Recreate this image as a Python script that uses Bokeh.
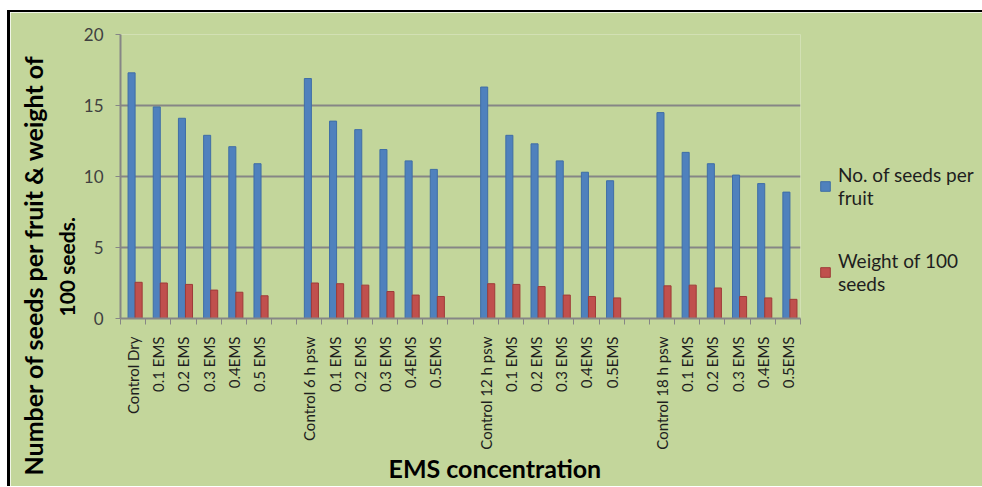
import numpy as np
from bokeh.plotting import figure
from bokeh.models import ColumnDataSource, Range1d, FixedTicker, Legend, LegendItem, Title
from bokeh.transform import dodge
from bokeh.embed import file_html
from bokeh.resources import INLINE

categories = ["Control Dry", "0.1 EMS", "0.2 EMS", "0.3 EMS", "0.4EMS", "0.5 EMS", "",
              "Control 6 h psw", "0.1 EMS", "0.2 EMS", "0.3 EMS", "0.4EMS", "0.5EMS", "",
              "Control 12 h psw", "0.1 EMS", "0.2 EMS", "0.3 EMS", "0.4EMS", "0.5EMS", "",
              "Control 18 h psw", "0.1 EMS", "0.2 EMS", "0.3 EMS", "0.4EMS", "0.5EMS"]
seeds_per_fruit = [17.3, 14.9, 14.1, 12.9, 12.1, 10.9, None,
                   16.9, 13.9, 13.3, 11.9, 11.1, 10.5, None,
                   16.3, 12.9, 12.3, 11.1, 10.3, 9.7, None,
                   14.5, 11.7, 10.9, 10.1, 9.5, 8.9]
weight_100_seeds = [2.55, 2.5, 2.4, 2.0, 1.85, 1.6, None,
                    2.5, 2.45, 2.35, 1.9, 1.65, 1.55, None,
                    2.45, 2.4, 2.25, 1.65, 1.55, 1.45, None,
                    2.3, 2.35, 2.15, 1.55, 1.45, 1.35]
y_ticks = [0, 5, 10, 15, 20]

series_names = ["No. of seeds per\nfruit", "Weight of 100\nseeds"]
x_title = "EMS concentration"
y_title = ["Number of seeds per fruit & weight of", "100 seeds."]

BG = "#C3D69B"
GRID = "#868686"
BLUE = "#4F81BD"
RED = "#C0504D"
FONT = "Lato"

idx = [i for i, c in enumerate(categories) if c]
src = ColumnDataSource(dict(
    x=idx,
    cat=[categories[i] for i in idx],
    seeds=[seeds_per_fruit[i] for i in idx],
    weight=[weight_100_seeds[i] for i in idx],
))

n = len(categories)
p = figure(frame_width=680, frame_height=284, x_range=Range1d(-0.5, n - 0.5), y_range=Range1d(0, 20),
           output_backend="svg", toolbar_location=None,
           min_border_left=110, min_border_right=180, min_border_top=22, min_border_bottom=168)
p.styles = {"border-left": "3px solid black", "border-top": "2px solid black",
            "margin-left": "7px", "margin-top": "10px"}
p.background_fill_color = BG
p.border_fill_color = BG
p.outline_line_color = None

rb = p.vbar(x=dodge("x", -0.06, range=p.x_range), top="seeds", width=0.28, source=src,
            fill_color=BLUE, line_color="#3F6EA6", line_width=1)
rr = p.vbar(x=dodge("x", 0.22, range=p.x_range), top="weight", width=0.28, source=src,
            fill_color=RED, line_color="#9E3B38", line_width=1)

xa = p.xaxis[0]
xa.ticker = FixedTicker(ticks=idx, minor_ticks=[i - 0.5 for i in range(n + 1)])
xa.major_label_overrides = {i: categories[i] for i in idx}
xa.major_tick_line_color = None
xa.major_tick_in = 0
xa.major_tick_out = 0
xa.minor_tick_line_color = GRID
xa.minor_tick_in = 0
xa.minor_tick_out = 6
xa.axis_line_color = GRID
xa.axis_line_width = 2
xa.major_label_orientation = np.pi / 2
xa.major_label_standoff = 12
xa.major_label_text_font = FONT
xa.major_label_text_font_size = "15px"
xa.major_label_text_color = "#1E1E1E"

ya = p.yaxis[0]
ya.ticker = FixedTicker(ticks=y_ticks, minor_ticks=[])
ya.major_tick_line_color = GRID
ya.major_tick_in = 0
ya.major_tick_out = 5
ya.axis_line_color = GRID
ya.axis_line_width = 2
ya.major_label_standoff = 12
ya.major_label_text_font = FONT
ya.major_label_text_font_size = "17px"
ya.major_label_text_color = "#404040"

p.xgrid.visible = False
p.ygrid.grid_line_color = GRID
p.ygrid.grid_line_width = 2

# axis titles
p.add_layout(Title(text=y_title[1], align="left", offset=2, standoff=3,
                   text_font=FONT, text_font_style="bold", text_font_size="21px",
                   text_color="black"), "left")
p.add_layout(Title(text=y_title[0], align="left", offset=-157, standoff=5,
                   text_font=FONT, text_font_style="bold", text_font_size="25px",
                   text_color="black"), "left")
p.add_layout(Title(text=x_title, align="left", offset=268, standoff=0,
                   vertical_align="top", text_line_height=0.9,
                   text_font=FONT, text_font_style="bold", text_font_size="25px",
                   text_color="black"), "below")

legend = Legend(items=[LegendItem(label=series_names[0], renderers=[rb]),
                       LegendItem(label=series_names[1], renderers=[rr])],
                location=(19, 23), padding=0, margin=0, spacing=40,
                glyph_width=12, glyph_height=12, label_standoff=7,
                label_text_font=FONT, label_text_font_size="19px",
                label_text_color="#1E1E1E", label_text_line_height=1.3,
                background_fill_alpha=0, border_line_color=None)
p.add_layout(legend, "right")

open("out.html", "w").write(file_html(p, INLINE))
